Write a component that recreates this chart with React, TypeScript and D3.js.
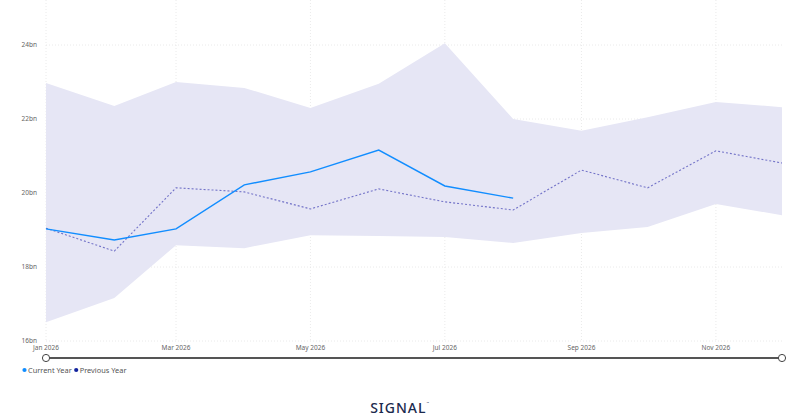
import { useEffect, useRef } from 'react'
import * as d3 from 'd3'

const months = [
  '2026-01-01', '2026-02-01', '2026-03-01', '2026-04-01', '2026-05-01', '2026-06-01',
  '2026-07-01', '2026-08-01', '2026-09-01', '2026-10-01', '2026-11-01', '2026-12-01',
]
const currentYear = [19.03, 18.73, 19.03, 20.22, 20.57, 21.16, 20.19, 19.86]
const previousYear = [19.05, 18.43, 20.14, 20.03, 19.57, 20.11, 19.76, 19.54, 20.62, 20.14, 21.14, 20.81]
const bandUpper = [22.97, 22.35, 23.0, 22.84, 22.3, 22.95, 24.05, 22.0, 21.68, 22.05, 22.46, 22.32]
const bandLower = [16.51, 17.16, 18.59, 18.51, 18.86, 18.84, 18.81, 18.65, 18.92, 19.08, 19.7, 19.4]
const yTicks = [16, 18, 20, 22, 24]
const xTicks = ['2026-01-01', '2026-03-01', '2026-05-01', '2026-07-01', '2026-09-01', '2026-11-01']
const legendItems = [
  { name: 'Current Year', color: '#118DFF' },
  { name: 'Previous Year', color: '#12239E' },
]

export default function App() {
  const svgRef = useRef<SVGSVGElement>(null)

  useEffect(() => {
    if (!svgRef.current) return
    const svg = d3.select(svgRef.current)
    svg.selectAll('*').remove()

    const width = 800
    const height = 419
    const parse = d3.timeParse('%Y-%m-%d')
    const dates = months.map(m => parse(m)!)

    const x = d3.scaleTime()
      .domain([dates[0], dates[dates.length - 1]])
      .range([46, 782])
    const y = d3.scaleLinear().domain([16, 24]).range([341, 45])

    svg.attr('viewBox', `0 0 ${width} ${height}`)
      .attr('width', width)
      .attr('height', height)

    const font = '"Noto Sans", "DejaVu Sans", sans-serif'

    // grid
    svg.append('g')
      .selectAll('line')
      .data(yTicks)
      .enter()
      .append('line')
      .attr('x1', 46)
      .attr('x2', 782)
      .attr('y1', d => y(d))
      .attr('y2', d => y(d))
      .attr('stroke', '#e4e4e4')
      .attr('stroke-width', 0.8)
      .attr('stroke-dasharray', '1,2')

    svg.append('g')
      .selectAll('line')
      .data(xTicks)
      .enter()
      .append('line')
      .attr('x1', d => x(parse(d)!))
      .attr('x2', d => x(parse(d)!))
      .attr('y1', 0)
      .attr('y2', 341)
      .attr('stroke', '#e4e4e4')
      .attr('stroke-width', 0.8)
      .attr('stroke-dasharray', '1,2')

    // band
    const area = d3.area<number>()
      .x((_, i) => x(dates[i]))
      .y0((_, i) => y(bandLower[i]))
      .y1(d => y(d))
    svg.append('path')
      .datum(bandUpper)
      .attr('d', area)
      .attr('fill', '#E6E6F5')

    const line = d3.line<number>()
      .x((_, i) => x(dates[i]))
      .y(d => y(d))

    svg.append('path')
      .datum(previousYear)
      .attr('d', line)
      .attr('fill', 'none')
      .attr('stroke', '#7373C8')
      .attr('stroke-width', 1.1)
      .attr('stroke-dasharray', '2,2')

    svg.append('path')
      .datum(currentYear)
      .attr('d', line)
      .attr('fill', 'none')
      .attr('stroke', '#118DFF')
      .attr('stroke-width', 1.4)

    // y labels
    svg.append('g')
      .selectAll('text')
      .data(yTicks)
      .enter()
      .append('text')
      .attr('x', 37)
      .attr('y', d => y(d) + 2)
      .attr('text-anchor', 'end')
      .attr('font-family', font)
      .attr('font-size', '6.5px')
      .attr('fill', '#666')
      .text(d => `${d}bn`)

    // x labels
    const fmt = d3.timeFormat('%b %Y')
    svg.append('g')
      .selectAll('text')
      .data(xTicks)
      .enter()
      .append('text')
      .attr('x', d => x(parse(d)!))
      .attr('y', 350)
      .attr('text-anchor', 'middle')
      .attr('font-family', font)
      .attr('font-size', '6.5px')
      .attr('fill', '#666')
      .text(d => fmt(parse(d)!))

    // slider
    svg.append('line')
      .attr('x1', x(dates[0]))
      .attr('x2', x(dates[dates.length - 1]))
      .attr('y1', 358)
      .attr('y2', 358)
      .attr('stroke', '#555')
      .attr('stroke-width', 2)
    svg.append('g')
      .selectAll('circle')
      .data([dates[0], dates[dates.length - 1]])
      .enter()
      .append('circle')
      .attr('cx', d => x(d))
      .attr('cy', 358)
      .attr('r', 3.6)
      .attr('fill', '#fff')
      .attr('stroke', '#444')
      .attr('stroke-width', 1)

    // legend
    const legend = svg.append('g').attr('transform', 'translate(24.5,370)')
    let lx = 0
    legendItems.forEach(item => {
      legend.append('circle')
        .attr('cx', lx)
        .attr('cy', 0)
        .attr('r', 2.1)
        .attr('fill', item.color)
      const t = legend.append('text')
        .attr('x', lx + 3.5)
        .attr('y', 2.6)
        .attr('font-family', font)
        .attr('font-size', '7.4px')
        .attr('fill', '#555')
        .text(item.name)
      lx += 3.5 + (t.node() as SVGTextElement).getComputedTextLength() + 4.5
    })

    // logo
    const logo = svg.append('text')
      .attr('x', 400)
      .attr('y', 413)
      .attr('text-anchor', 'middle')
      .attr('font-family', font)
      .attr('font-size', '14px')
      .attr('font-weight', 500)
      .attr('letter-spacing', '1px')
      .attr('fill', '#1B2A4E')
      .text('SIGNAL')
    logo.append('tspan')
      .attr('font-size', '3px')
      .attr('dy', -9)
      .text('™')
  }, [])

  return (
    <div style={{ position: 'absolute', left: 0, top: 0, background: '#fff' }}>
      <svg ref={svgRef} style={{ display: 'block' }} />
    </div>
  )
}
